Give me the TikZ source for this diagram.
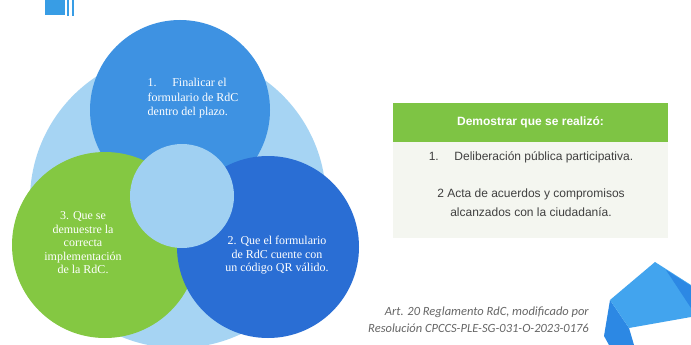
\documentclass[tikz,border=0pt]{standalone}
\usepackage{fontspec}
\setmainfont{Liberation Serif}
\newfontfamily\arialfont{Liberation Sans}
\newfontfamily\calfont{Carlito}
\definecolor{ringlight}{RGB}{166,212,243}
\definecolor{coreblue}{RGB}{160,208,242}
\definecolor{topblue}{RGB}{62,146,226}
\definecolor{darkblue}{RGB}{42,110,212}
\definecolor{leafgreen}{RGB}{132,200,66}
\definecolor{hdrgreen}{RGB}{126,196,68}
\definecolor{bodygrey}{RGB}{244,246,240}
\definecolor{ribbonlight}{RGB}{66,164,238}
\definecolor{ribbondark}{RGB}{44,136,228}
\tikzset{
  circtext/.style={text=white, font=\fontsize{12}{13.5}\selectfont, inner sep=0pt},
  boxtext/.style={text=black!75, font=\arialfont\fontsize{12}{19}\selectfont, inner sep=0pt, align=center},
}
\begin{document}
\begin{tikzpicture}[x=1pt,y=-1pt]
\useasboundingbox (0,0) rectangle (691,345);
\fill[white] (0,0) rectangle (691,345);
% corner mark
\fill[topblue!90!cyan] (45,0) rectangle (65,15);
\fill[topblue!90!cyan] (67,0) rectangle (69,16);
\fill[topblue!90!cyan] (72,0) rectangle (74,16);
% circles
\fill[ringlight] (178,200) circle (148pt);
\fill[topblue] (180,110) circle (90pt);
\fill[leafgreen] (105,245) circle (93pt);
\fill[darkblue] (268,247) circle (91pt);
\fill[coreblue] (182,196) circle (52pt);
\node[circtext, align=left, font=\fontsize{12}{14.5}\selectfont] (one) at (193,98.5)
  {1.\hspace{1.3em}Finalicar el\\formulario de RdC\\dentro del plazo.};
\node[circtext, align=center] (two) at (277,255.5)
  {2. Que el formulario\\de RdC cuente con\\un código QR válido.};
\node[circtext, align=center] (three) at (83,243)
  {3. Que se\\demuestre la\\correcta\\implementación\\de la RdC.};
% box on the right
\fill[bodygrey] (393,142) rectangle (668,238);
\node[fill=hdrgreen, text=white, font=\arialfont\bfseries\fontsize{12}{14}\selectfont,
  minimum width=275pt, minimum height=39pt, inner sep=0pt] (hdr) at (530.5,122.5)
  {Demostrar que se realizó:};
\node[boxtext] (itema) at (531,157) {1.\hspace{1.3em}Deliberación pública participativa.};
\node[boxtext] (itemb) at (531,202.5) {2 Acta de acuerdos y compromisos\\alcanzados con la ciudadanía.};
% citation
\node[text=black!60, font=\calfont\itshape\fontsize{12.5}{17}\selectfont, align=right,
  anchor=east, inner sep=0pt] (cite) at (589,319.5)
  {Art. 20 Reglamento RdC, modificado por\\Resolución CPCCS-PLE-SG-031-O-2023-0176};
% ribbon
\fill[ribbondark] (610,300) -- (604,336) -- (609,345) -- (634,345) -- (629,328) -- cycle;
\fill[ribbonlight] (610,300) -- (655,262) -- (691,285) -- (691,317) -- (629,328) -- cycle;
\fill[ribbondark] (666,270) -- (691,286) -- (691,308) -- cycle;
\end{tikzpicture}
\end{document}
